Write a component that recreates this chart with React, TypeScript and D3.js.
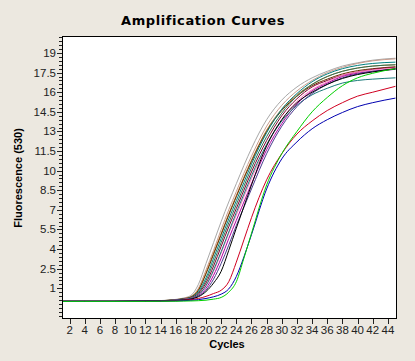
import * as d3 from "d3";

const cycles = [1, 4, 8, 12, 14, 16, 17, 18, 19, 20, 21, 22, 23, 24, 25, 26, 28, 30, 32, 34, 36, 38, 40, 42, 45];

const gray = [0, 0, 0, 0.02, 0.06, 0.15, 0.25, 0.45, 1.3, 2.9, 4.5, 6.1, 7.6, 9.0, 10.4, 11.7, 13.9, 15.4, 16.4, 17.1, 17.6, 18.0, 18.25, 18.45, 18.6];
const tan = [0, 0, 0, 0.02, 0.05, 0.13, 0.22, 0.38, 1.0, 2.4, 3.9, 5.5, 7.0, 8.4, 9.8, 11.1, 13.4, 15.0, 16.1, 16.9, 17.5, 17.9, 18.2, 18.4, 18.55];
const orange = [0, 0, 0, 0.02, 0.05, 0.12, 0.2, 0.35, 0.9, 2.2, 3.7, 5.2, 6.7, 8.1, 9.5, 10.8, 13.1, 14.7, 15.8, 16.6, 17.2, 17.6, 17.85, 18.0, 18.1];
const brown = [0, 0, 0, 0.02, 0.05, 0.12, 0.2, 0.33, 0.85, 2.1, 3.6, 5.1, 6.6, 8.0, 9.4, 10.7, 13.0, 14.6, 15.7, 16.5, 17.0, 17.4, 17.65, 17.8, 17.95];
const teal = [0, 0, 0, 0.02, 0.05, 0.11, 0.18, 0.3, 0.75, 1.8, 3.3, 4.8, 6.3, 7.7, 9.1, 10.5, 12.9, 14.7, 15.9, 16.8, 17.4, 17.8, 18.05, 18.2, 18.3];
const darkGreen = [0, 0, 0, 0.02, 0.05, 0.1, 0.17, 0.28, 0.65, 1.6, 3.0, 4.5, 6.0, 7.4, 8.8, 10.2, 12.6, 14.4, 15.7, 16.6, 17.2, 17.6, 17.85, 18.0, 18.1];
const maroon = [0, 0, 0, 0.02, 0.05, 0.1, 0.16, 0.26, 0.6, 1.4, 2.7, 4.2, 5.7, 7.1, 8.5, 9.9, 12.3, 14.2, 15.5, 16.4, 16.9, 17.3, 17.55, 17.75, 17.9];
const pink = [0, 0, 0, 0.02, 0.04, 0.09, 0.15, 0.24, 0.5, 1.2, 2.3, 3.7, 5.2, 6.6, 8.0, 9.4, 11.9, 13.9, 15.3, 16.2, 16.8, 17.3, 17.55, 17.7, 17.85];
const magenta = [0, 0, 0, 0.02, 0.04, 0.08, 0.13, 0.21, 0.45, 1.0, 2.0, 3.3, 4.8, 6.2, 7.6, 9.0, 11.6, 13.6, 15.1, 16.1, 16.7, 17.2, 17.45, 17.6, 17.75];
const lowTeal = [0, 0, 0, 0.02, 0.04, 0.09, 0.14, 0.22, 0.5, 1.2, 2.4, 3.8, 5.3, 6.8, 8.2, 9.6, 12.0, 13.8, 15.0, 15.8, 16.3, 16.7, 16.9, 17.0, 17.1];
const purple = [0, 0, 0, 0.02, 0.04, 0.07, 0.12, 0.19, 0.4, 0.85, 1.7, 2.9, 4.3, 5.8, 7.2, 8.6, 11.3, 13.4, 14.9, 15.9, 16.6, 17.1, 17.4, 17.6, 17.75];
const black = [0, 0, 0, 0.02, 0.04, 0.07, 0.1, 0.17, 0.35, 0.75, 1.4, 2.3, 3.9, 5.6, 7.25, 8.9, 11.9, 13.9, 15.2, 16.0, 16.6, 17.05, 17.35, 17.55, 17.8];
const red = [0, 0, 0, 0.01, 0.03, 0.05, 0.08, 0.13, 0.22, 0.38, 0.6, 0.85, 1.5, 3.0, 4.7, 6.4, 9.3, 11.3, 12.8, 13.8, 14.6, 15.2, 15.7, 16.0, 16.45];
const blue = [0, 0, 0, 0.01, 0.02, 0.03, 0.05, 0.08, 0.13, 0.22, 0.35, 0.55, 0.95, 1.9, 3.4, 5.1, 8.6, 10.9, 12.2, 13.2, 13.9, 14.45, 14.9, 15.2, 15.55];
const green = [0, 0, 0, 0, 0.01, 0.01, 0.02, 0.03, 0.05, 0.09, 0.17, 0.3, 0.7, 1.5, 3.3, 5.2, 8.9, 11.3, 13.0, 14.5, 15.6, 16.5, 17.1, 17.45, 17.8];

const series = [
  { color: "#a8a8a8", values: gray },
  { color: "#c89c8c", values: tan },
  { color: "#c08040", values: orange },
  { color: "#663300", values: brown },
  { color: "#008080", values: teal },
  { color: "#2f6f4f", values: darkGreen },
  { color: "#800030", values: maroon },
  { color: "#ff7fbf", values: pink },
  { color: "#b000a0", values: magenta },
  { color: "#1a7a7a", values: lowTeal },
  { color: "#4b3b8f", values: purple },
  { color: "#000000", values: black },
  { color: "#d00020", values: red },
  { color: "#0000b0", values: blue },
  { color: "#00d000", values: green },
];

const yTicks = [1, 2.5, 4, 5.5, 7, 8.5, 10, 11.5, 13, 14.5, 16, 17.5, 19];
const xTicks = d3.range(2, 45, 2);

const W = 415;
const H = 361;
const left = 62, right = 397, top = 36, bottom = 319;

export default function App() {
  const x = d3.scaleLinear().domain([1, 45.2]).range([left, right]);
  const y = d3.scaleLinear().domain([-1.35, 20.3]).range([bottom, top]);
  const line = d3
    .line<number>()
    .x((_, i) => x(cycles[i]))
    .y((v) => y(v))
    .curve(d3.curveMonotoneX);

  const minor = d3.range(-7, 65).map((k) => 1 + k * 0.3).filter((v) => y(v) > top + 1 && y(v) < bottom - 1);
  const font = "'Liberation Sans', Arial, sans-serif";

  return (
    <svg width={W} height={H} style={{ position: "absolute", left: 0, top: 0 }} fontFamily={font}>
      <rect width={W} height={H} fill="#ece8e0" />
      <text x={203} y={25} textAnchor="middle" fontSize={13} fontWeight="bold" letterSpacing={0.6} fontFamily="'DejaVu Sans', sans-serif" fill="#000">
        Amplification Curves
      </text>
      <defs>
        <clipPath id="plot">
          <rect x={left} y={top} width={right - left} height={bottom - top} />
        </clipPath>
      </defs>
      <rect x={left} y={top} width={right - left} height={bottom - top} fill="#fff" />
      <g clipPath="url(#plot)" fill="none" strokeWidth={1}>
        {series.map((s, i) => (
          <path key={i} d={line(s.values) || ""} stroke={s.color} />
        ))}
      </g>
      <rect x={left + 0.5} y={top + 0.5} width={right - left - 1} height={bottom - top - 1} fill="none" stroke="#000" strokeWidth={1} />
      <g stroke="#222" shapeRendering="crispEdges">
        {minor.map((v, i) => (
          <line key={i} x1={left - 3} x2={left} y1={Math.round(y(v)) + 0.5} y2={Math.round(y(v)) + 0.5} />
        ))}
        {yTicks.map((v) => (
          <line key={v} x1={left - 5} x2={left} y1={Math.round(y(v)) + 0.5} y2={Math.round(y(v)) + 0.5} />
        ))}
        {xTicks.map((c) => (
          <line key={c} x1={Math.round(x(c)) + 0.5} x2={Math.round(x(c)) + 0.5} y1={bottom} y2={bottom + 5} />
        ))}
      </g>
      <g fontSize={11.5} fill="#222">
        {yTicks.map((v) => (
          <text key={v} x={left - 6} y={y(v)} dy="0.35em" textAnchor="end">
            {v}
          </text>
        ))}
        {xTicks.map((c) => (
          <text key={c} x={x(c)} y={334} textAnchor="middle">
            {c}
          </text>
        ))}
      </g>
      <text x={227} y={348} textAnchor="middle" fontSize={11} fontWeight="bold" fill="#000">
        Cycles
      </text>
      <text
        transform={`translate(22,178) rotate(-90)`}
        textAnchor="middle"
        fontSize={11}
        fontWeight="bold"
        fill="#000"
      >
        Fluorescence (530)
      </text>
    </svg>
  );
}
